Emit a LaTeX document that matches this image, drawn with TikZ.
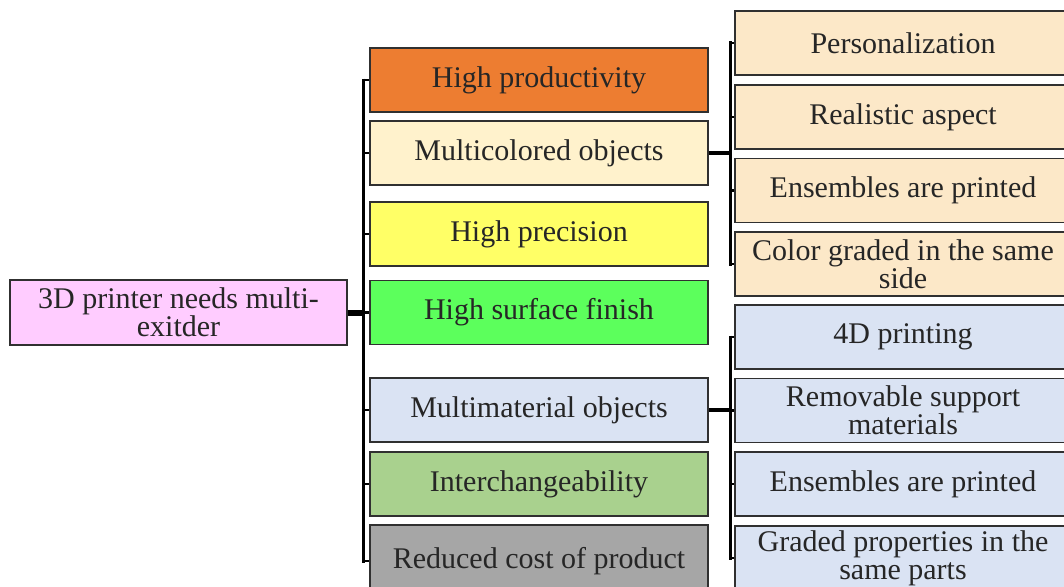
\documentclass[tikz,border=0pt]{standalone}
\usepackage{fontspec}
\setmainfont{Liberation Serif}
\definecolor{cRoot}{HTML}{FFCCFF}
\definecolor{cOrange}{HTML}{ED7D31}
\definecolor{cCream}{HTML}{FFF2CC}
\definecolor{cCreamR}{HTML}{FCE8C8}
\definecolor{cYellow}{HTML}{FFFF66}
\definecolor{cGreen}{HTML}{5CFF5C}
\definecolor{cBlue}{HTML}{DAE3F3}
\definecolor{cOlive}{HTML}{A9D18E}
\definecolor{cGray}{HTML}{A6A6A6}
\definecolor{cBorder}{HTML}{303030}
\definecolor{cText}{HTML}{262626}
\tikzset{
  box/.style={draw=cBorder, line width=1.6pt, minimum height=64pt, inner sep=2pt,
    align=center, font=\fontsize{30}{28}\selectfont, text=cText},
  midbox/.style={box, minimum width=338pt},
  rtbox/.style={box, minimum width=336pt},
  trunk/.style={line width=3pt, draw=black},
  tick/.style={line width=2.5pt, draw=black},
  link/.style={line width=3.5pt, draw=black},
  rootlink/.style={line width=6pt, draw=black}
}
\begin{document}
\begin{tikzpicture}[x=1pt,y=-1pt]
\useasboundingbox (0,0) rectangle (1064,586);
\clip (0,0) rectangle (1064,586);
\fill[white] (0,0) rectangle (1064,586);

% root
\node[box, fill=cRoot, minimum width=337pt, minimum height=65pt] (root) at (178.5,312.5) {3D printer needs multi-\\exitder};

% middle column
\node[midbox, fill=cOrange] (hp) at (539,80) {High productivity};
\node[midbox, fill=cCream] (mc) at (539,153) {Multicolored objects};
\node[midbox, fill=cYellow] (hpr) at (539,234) {High precision};
\node[midbox, fill=cGreen] (hsf) at (539,312.5) {High surface finish};
\node[midbox, fill=cBlue] (mm) at (539,410) {Multimaterial objects};
\node[midbox, fill=cOlive] (ic) at (539,484) {Interchangeability};
\node[midbox, fill=cGray, minimum height=72pt] (rc) at (539,561) {Reduced cost of product};

% right column (colour branch)
\node[rtbox, fill=cCreamR] (r1) at (903,43) {Personalization};
\node[rtbox, fill=cCreamR] (r2) at (903,117) {Realistic aspect};
\node[rtbox, fill=cCreamR] (r3) at (903,190.5) {Ensembles are printed};
\node[rtbox, fill=cCreamR] (r4) at (903,264) {Color graded in the same\\side};

% right column (material branch)
\node[rtbox, fill=cBlue] (r5) at (903,337) {4D printing};
\node[rtbox, fill=cBlue] (r6) at (903,410.5) {Removable support\\materials};
\node[rtbox, fill=cBlue] (r7) at (903,484) {Ensembles are printed};
\node[rtbox, fill=cBlue] (r8) at (903,558) {Graded properties in the\\same parts};

% trunk positions
\coordinate (tA) at (363,0);
\coordinate (tB) at (730,0);

% root to main trunk
\draw[rootlink] (root.east) -- (root.east -| tA);
\draw[trunk] ([yshift=1.5pt]hp.west -| tA) -- ([yshift=-1.5pt]rc.west -| tA);
\foreach \n in {hp,mc,hpr,hsf,mm,ic,rc}{
  \draw[tick] (\n.west -| tA) -- (\n.west);
}

% colour branch
\draw[link] (mc.east) -- (mc.east -| tB);
\draw[trunk] ([yshift=1.5pt]r1.west -| tB) -- ([yshift=-1.5pt]r4.west -| tB);
\foreach \n in {r1,r2,r3,r4}{
  \draw[tick] (\n.west -| tB) -- (\n.west);
}

% material branch
\draw[link] (mm.east) -- (mm.east -| tB);
\draw[trunk] ([yshift=1.5pt]r5.west -| tB) -- ([yshift=-1.5pt]r8.west -| tB);
\foreach \n in {r5,r6,r7,r8}{
  \draw[tick] (\n.west -| tB) -- (\n.west);
}
\end{tikzpicture}
\end{document}
